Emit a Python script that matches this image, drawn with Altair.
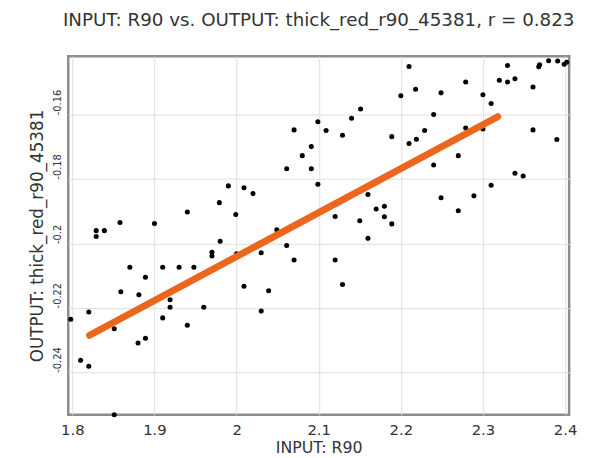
import altair as alt
import pandas as pd

# scatter values
x_vals = [1.990, 1.979, 1.999, 1.940, 1.900, 1.858, 1.829, 1.839, 1.829, 2.210,
          2.218, 2.200, 2.151, 2.140, 2.099, 2.109, 2.070, 2.129, 2.189, 2.229,
          2.210, 2.219, 2.091, 2.080, 2.061, 2.091, 2.099, 2.009, 2.020, 2.160,
          2.180, 2.170, 2.180, 2.189, 2.120, 2.150, 2.049, 2.330, 2.369, 2.380,
          2.391, 2.399, 2.402, 2.279, 2.320, 2.330, 2.339, 2.249, 2.361, 2.300,
          2.310, 2.240, 2.279, 2.300, 2.361, 2.390, 2.270, 2.240, 2.339, 2.349,
          2.310, 2.249, 2.289, 2.270, 1.980, 1.970, 1.970, 1.870, 1.910, 1.930,
          1.948, 1.889, 1.859, 1.881, 1.919, 1.919, 1.960, 1.820, 1.798, 1.910,
          1.940, 1.851, 1.889, 1.880, 1.810, 1.820, 1.851, 2.160, 2.000, 2.030,
          2.061, 2.070, 2.120, 2.129, 2.009, 2.039, 2.030, 2.368]
y_vals = [-0.1821, -0.1873, -0.1910, -0.1902, -0.1938, -0.1935, -0.1960, -0.1960, -0.1978, -0.1450,
          -0.1521, -0.1541, -0.1582, -0.1611, -0.1622, -0.1649, -0.1647, -0.1664, -0.1668, -0.1649,
          -0.1689, -0.1676, -0.1699, -0.1727, -0.1768, -0.1768, -0.1816, -0.1827, -0.1845, -0.1848,
          -0.1884, -0.1893, -0.1917, -0.1939, -0.1916, -0.1929, -0.1957, -0.1447, -0.1445, -0.1432,
          -0.1433, -0.1443, -0.1437, -0.1498, -0.1493, -0.1498, -0.1488, -0.1532, -0.1514, -0.1538,
          -0.1565, -0.1599, -0.1641, -0.1644, -0.1647, -0.1677, -0.1727, -0.1756, -0.1782, -0.1790,
          -0.1819, -0.1858, -0.1852, -0.1898, -0.1993, -0.2027, -0.2039, -0.2074, -0.2074, -0.2074,
          -0.2074, -0.2105, -0.2150, -0.2159, -0.2175, -0.2198, -0.2198, -0.2213, -0.2235, -0.2231,
          -0.2254, -0.2265, -0.2294, -0.2309, -0.2363, -0.2381, -0.2532, -0.1984, -0.2032, -0.2029,
          -0.2006, -0.2051, -0.2051, -0.2127, -0.2133, -0.2147, -0.2210, -0.1451]

# fitted line end points
fit_x = [1.821, 2.318]
fit_y = [-0.2285, -0.1606]

x_ticks = [1.8, 1.9, 2.0, 2.1, 2.2, 2.3, 2.4]
y_ticks = [-0.24, -0.22, -0.2, -0.18, -0.16]

title_text = "INPUT: R90 vs. OUTPUT: thick_red_r90_45381, r = 0.823"
x_title = "INPUT: R90"
y_title = "OUTPUT: thick_red_r90_45381"

pts = pd.DataFrame({"x": x_vals, "y": y_vals})
fit = pd.DataFrame({"x": fit_x, "y": fit_y})

FONT = "DejaVu Sans"
TXT = "#333333"

xscale = alt.Scale(domain=[1.795, 2.405], nice=False, zero=False)
yscale = alt.Scale(domain=[-0.2532, -0.1418], nice=False, zero=False)

xaxis = alt.Axis(
    title=x_title, values=x_ticks, labelExpr="toString(datum.value)",
    labelFont=FONT, labelFontSize=15, labelColor=TXT, labelPadding=8,
    titleFont=FONT, titleFontSize=16, titleFontWeight="normal", titleColor=TXT,
    titlePadding=2, ticks=False, domain=False,
    grid=True, gridColor="#dedede", gridWidth=1, labelFlush=False,
)
yaxis = alt.Axis(
    title=y_title, values=y_ticks, labelExpr="toString(datum.value)",
    labelFont=FONT, labelFontSize=10, labelColor=TXT, labelAngle=-90,
    labelAlign="left", labelBaseline="bottom", labelPadding=6,
    titleFont=FONT, titleFontSize=17, titleFontWeight="normal", titleColor=TXT,
    titlePadding=6, ticks=False, domain=False,
    grid=True, gridColor="#dedede", gridWidth=1,
)

points = alt.Chart(pts).mark_circle(size=26, color="#000000", opacity=1).encode(
    x=alt.X("x:Q", scale=xscale, axis=xaxis),
    y=alt.Y("y:Q", scale=yscale, axis=yaxis),
)

line = alt.Chart(fit).mark_line(color="#EC661E", strokeWidth=7, strokeCap="round").encode(
    x=alt.X("x:Q", scale=xscale),
    y=alt.Y("y:Q", scale=yscale),
)

chart = alt.layer(points, line).properties(
    width=507, height=363,
    background="white",
    title=alt.TitleParams(title_text, font=FONT, fontSize=18.5, fontWeight="normal",
                          color=TXT, anchor="middle", offset=27),
    autosize=alt.AutoSizeParams(type="none"),
    padding={"left": 61, "top": 46, "right": 12, "bottom": 41},
).configure_view(stroke="#8c8c8c", strokeWidth=2.5)

chart.save("out.html", embed_options={"renderer": "svg", "actions": False})
